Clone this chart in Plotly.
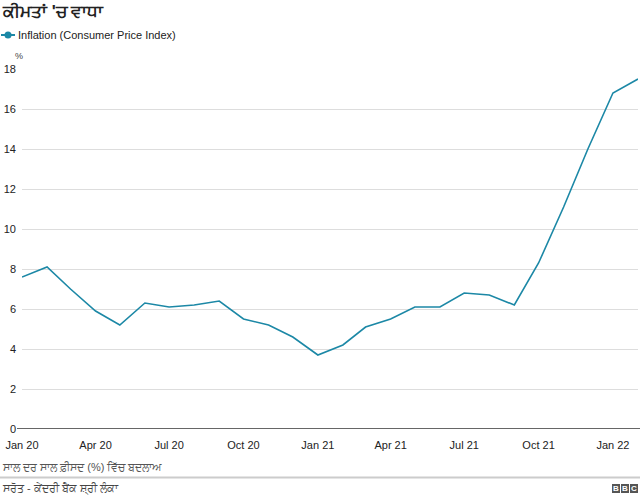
import plotly.graph_objects as go

months = ["2020-01-01","2020-02-01","2020-03-01","2020-04-01","2020-05-01","2020-06-01",
          "2020-07-01","2020-08-01","2020-09-01","2020-10-01","2020-11-01","2020-12-01",
          "2021-01-01","2021-02-01","2021-03-01","2021-04-01","2021-05-01","2021-06-01",
          "2021-07-01","2021-08-01","2021-09-01","2021-10-01","2021-11-01","2021-12-01",
          "2022-01-01","2022-02-01"]
inflation = [7.6, 8.1, 7.0, 5.9, 5.2, 6.3, 6.1, 6.2, 6.4, 5.5, 5.2, 4.6,
             3.7, 4.2, 5.1, 5.5, 6.1, 6.1, 6.8, 6.7, 6.2, 8.3, 11.1, 14.0,
             16.8, 17.5]
tick_dates = ["2020-01-01","2020-04-01","2020-07-01","2020-10-01","2021-01-01",
              "2021-04-01","2021-07-01","2021-10-01","2022-01-01"]
tick_labels = ["Jan 20","Apr 20","Jul 20","Oct 20","Jan 21","Apr 21","Jul 21","Oct 21","Jan 22"]
y_ticks = [0, 2, 4, 6, 8, 10, 12, 14, 16, 18]

title = "ਕੀਮਤਾਂ 'ਚ ਵਾਧਾ"
series_name = "Inflation (Consumer Price Index)"
subtitle = "ਸਾਲ ਦਰ ਸਾਲ ਫ਼ੀਸਦ (%) ਵਿੱਚ ਬਦਲਾਅ"
source = "ਸਰੋਤ - ਕੇਂਦਰੀ ਬੈਂਕ ਸ਼੍ਰੀ ਲੰਕਾ"

W, H = 640, 497
L, R, T, B = 22, 2, 69, 68
PW, PH = W - L - R, H - T - B

def px(x):
    return (x - L) / PW

def py(y):
    return (H - B - y) / PH

LINE = "#1c88a6"
FONT = "Liberation Sans, Arial, Noto Sans, sans-serif"

fig = go.Figure()
fig.add_trace(go.Scatter(x=months, y=inflation, mode="lines",
                         line=dict(color=LINE, width=1.6), showlegend=False,
                         name=series_name))

shapes = [
    dict(type="line", xref="paper", yref="y", x0=px(17), x1=px(640), y0=0, y1=0,
         line=dict(color="#333333", width=1.5)),
    dict(type="line", xref="paper", yref="paper", x0=px(1), x1=px(15), y0=py(35), y1=py(35),
         line=dict(color=LINE, width=2)),
    dict(type="circle", xref="paper", yref="paper", x0=px(4.5), x1=px(11.5),
         y0=py(38.5), y1=py(31.5), fillcolor=LINE, line=dict(color=LINE, width=0)),
    dict(type="line", xref="paper", yref="paper", x0=px(0), x1=px(640), y0=py(477.5), y1=py(477.5),
         line=dict(color="#cccccc", width=2)),
]
annotations = [
    dict(text="<b>" + title + "</b>", x=px(0), y=py(12), xref="paper", yref="paper",
         xanchor="left", yanchor="middle", showarrow=False,
         font=dict(size=17, color="#222222", family=FONT)),
    dict(text=series_name, x=px(16), y=py(35), xref="paper", yref="paper",
         xanchor="left", yanchor="middle", showarrow=False,
         font=dict(size=11, color="#222222", family=FONT)),
    dict(text="%", x=px(13), y=py(56), xref="paper", yref="paper",
         xanchor="left", yanchor="middle", showarrow=False,
         font=dict(size=9, color="#444444", family=FONT)),
    dict(text=subtitle, x=px(0), y=py(467), xref="paper", yref="paper",
         xanchor="left", yanchor="middle", showarrow=False,
         font=dict(size=11, color="#555555", family=FONT)),
    dict(text=source, x=px(0), y=py(488), xref="paper", yref="paper",
         xanchor="left", yanchor="middle", showarrow=False,
         font=dict(size=11, color="#444444", family=FONT)),
]
for i, ch in enumerate("BBC"):
    x0 = 612 + i * 9
    shapes.append(dict(type="rect", xref="paper", yref="paper", x0=px(x0), x1=px(x0 + 8),
                       y0=py(493), y1=py(484), fillcolor="#555555", line=dict(width=0)))
    annotations.append(dict(text="<b>" + ch + "</b>", x=px(x0 + 4), y=py(488.5), xref="paper",
                            yref="paper", xanchor="center", yanchor="middle", showarrow=False,
                            font=dict(size=8, color="white", family=FONT)))

fig.update_layout(
    width=W, height=H,
    margin=dict(l=L, r=R, t=T, b=B, pad=0),
    paper_bgcolor="white", plot_bgcolor="white",
    shapes=shapes, annotations=annotations,
    hovermode=False,
    xaxis=dict(range=[months[0], months[-1]], tickvals=tick_dates, ticktext=tick_labels,
               showgrid=False, zeroline=False, showline=False, ticks="",
               tickfont=dict(size=11, color="#222222", family=FONT), ticklabelstandoff=8),
    yaxis=dict(range=[0, 18], tickvals=y_ticks, showgrid=True, gridcolor="#dddddd",
               gridwidth=1, zeroline=False, showline=False, ticks="",
               tickfont=dict(size=11, color="#222222", family=FONT), ticklabelstandoff=5),
)

fig.write_html("out.html", config={"displayModeBar": False},
               post_script="document.body.style.margin='0';document.body.style.overflow='hidden';")
